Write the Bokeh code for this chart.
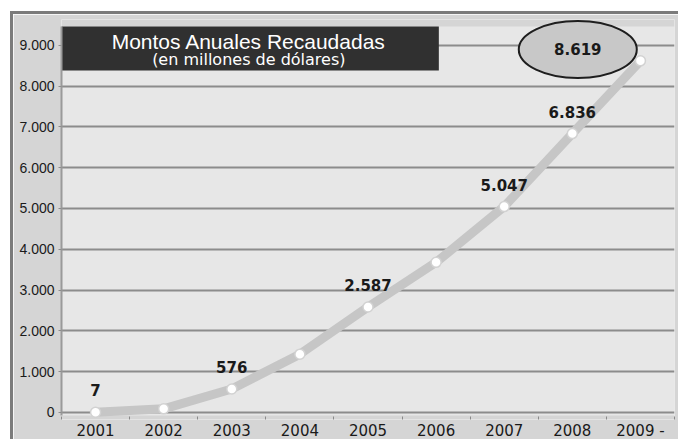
from bokeh.plotting import figure
from bokeh.models import FixedTicker, BoxAnnotation, Label, ColumnDataSource
from bokeh.core.properties import value
from bokeh.embed import file_html
from bokeh.resources import INLINE

# ---- data ----
years = [2001, 2002, 2003, 2004, 2005, 2006, 2007, 2008, 2009]
amounts = [7, 90, 576, 1430, 2587, 3680, 5047, 6836, 8619]
year_labels = ["2001", "2002", "2003", "2004", "2005", "2006", "2007", "2008", "2009 -"]

y_ticks = [0, 1000, 2000, 3000, 4000, 5000, 6000, 7000, 8000, 9000]
y_tick_labels = ["0", "1.000", "2.000", "3.000", "4.000", "5.000", "6.000", "7.000", "8.000", "9.000"]

label_years = [2001, 2003, 2005, 2007, 2008]
label_values = [7, 576, 2587, 5047, 6836]
label_texts = ["7", "576", "2.587", "5.047", "6.836"]

highlight_year = 2009
highlight_value = 8619
highlight_text = "8.619"

title_text = "Montos Anuales Recaudadas"
subtitle_text = "(en millones de dólares)"

# ---- layout constants ----
Y_START, Y_END = -171.6, 9632
PANEL_TOP = 9461          # top edge of the light plotting panel
PANEL_BOTTOM = -73.5      # bottom edge of the light plotting panel
BORDER_GRAY = "#d5d5d5"
PLOT_BG = "#e7e7e7"
GRID = "#8c8c8c"

p = figure(width=668, height=428,
           x_range=(years[0] - 0.5, years[-1] + 0.5),
           y_range=(Y_START, Y_END),
           output_backend="svg", toolbar_location=None,
           min_border_left=48, min_border_right=7,
           min_border_top=5, min_border_bottom=23)
p.styles = {"margin-top": "11px", "margin-left": "10px",
            "border-top": "3px solid #7b7b7b", "border-left": "3px solid #7b7b7b"}
p.background_fill_color = PLOT_BG
p.border_fill_color = BORDER_GRAY
p.outline_line_color = None

# y axis
p.yaxis.ticker = FixedTicker(ticks=y_ticks)
p.yaxis.major_label_overrides = dict(zip(y_ticks, y_tick_labels))
p.yaxis.bounds = (PANEL_BOTTOM, PANEL_TOP)
p.yaxis.axis_line_color = "#9a9a9a"
p.yaxis.axis_line_width = 2
p.yaxis.major_tick_out = 3
p.yaxis.major_tick_in = 0
p.yaxis.major_tick_line_color = GRID
p.yaxis.minor_tick_line_color = None
p.yaxis.major_label_standoff = 4
p.yaxis.major_label_text_font = "Liberation Sans"
p.yaxis.major_label_text_font_size = "14px"
p.yaxis.major_label_text_color = "#1a1a1a"

# x axis
boundaries = [y - 0.5 for y in years] + [years[-1] + 0.5]
p.xaxis.ticker = FixedTicker(ticks=years, minor_ticks=boundaries)
p.xaxis.major_label_overrides = dict(zip(years, year_labels))
p.xaxis.axis_line_color = None
p.xaxis.major_tick_line_color = None
p.xaxis.major_tick_out = 0
p.xaxis.major_tick_in = 0
p.xaxis.minor_tick_in = 3
p.xaxis.minor_tick_out = 0
p.xaxis.minor_tick_line_color = "#8a8a8a"
p.xaxis.major_label_standoff = 2
p.xaxis.major_label_text_font = "DejaVu Sans"
p.xaxis.major_label_text_font_size = "15px"
p.xaxis.major_label_text_color = "#1a1a1a"

# grid
p.xgrid.grid_line_color = None
p.ygrid.ticker = FixedTicker(ticks=y_ticks)
p.ygrid.grid_line_color = GRID
p.ygrid.grid_line_width = 2

# gray strips above and below the panel (under glyphs so marks can overlap them)
p.add_layout(BoxAnnotation(bottom=PANEL_TOP, fill_color=BORDER_GRAY, fill_alpha=1,
                           line_color=None, level="underlay"))
p.add_layout(BoxAnnotation(top=PANEL_BOTTOM, fill_color=BORDER_GRAY, fill_alpha=1,
                           line_color=None, level="underlay"))

# title box
p.add_layout(BoxAnnotation(right=2006.04, bottom=8382, top=PANEL_TOP,
                           fill_color="#303030", fill_alpha=1, line_color=None,
                           level="underlay"))
p.add_layout(Label(x=2003.25, y=9105, text=title_text, text_align="center",
                   text_baseline="middle", text_font="Liberation Sans",
                   text_font_size="21px", text_color="white"))
p.add_layout(Label(x=2003.25, y=8652, text=subtitle_text, text_align="center",
                   text_baseline="middle", text_font="DejaVu Sans",
                   text_font_size="16px", text_color="white"))

# series
src = ColumnDataSource(dict(x=years, y=amounts))
p.line("x", "y", source=src, line_color="#c6c6c6", line_width=9,
       line_join="round", line_cap="round")
p.scatter("x", "y", source=src, size=10, fill_color="white",
          line_color="#d2d2d2", line_width=1.5)

# value labels
lab = ColumnDataSource(dict(x=label_years, y=label_values, t=label_texts))
p.text("x", "y", text="t", source=lab, text_font=value("DejaVu Sans"),
       text_font_style="bold", text_font_size="15px", text_align="center",
       text_baseline="middle", y_offset=-22, text_color="#1a1a1a")

# callout for the last value
CALLOUT_DX, CALLOUT_DY = -0.92, 278
p.ellipse(x=[highlight_year + CALLOUT_DX], y=[highlight_value + CALLOUT_DY],
          width=118, height=57, width_units="screen", height_units="screen",
          fill_color="#c8c8c8", line_color="#1e1e1e", line_width=2)
p.text(x=[highlight_year + CALLOUT_DX], y=[highlight_value + CALLOUT_DY],
       text=[highlight_text], text_font=value("DejaVu Sans"),
       text_font_style="bold", text_font_size="15px", text_align="center",
       text_baseline="middle", text_color="#1a1a1a")

open("out.html", "w").write(file_html(p, INLINE))
